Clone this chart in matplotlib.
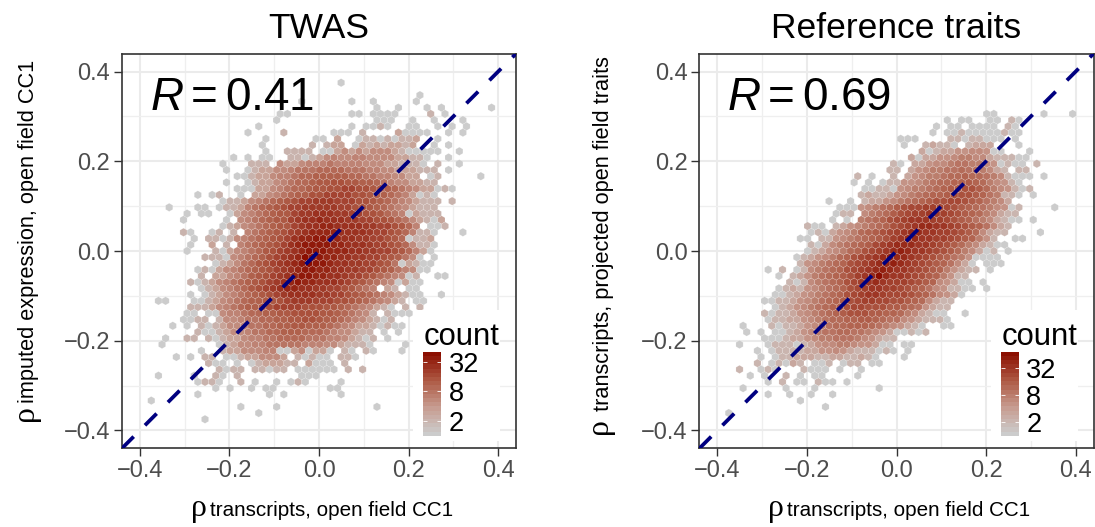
import numpy as np
import matplotlib
matplotlib.use("Agg")
import matplotlib.pyplot as plt
from matplotlib.colors import LinearSegmentedColormap, LogNorm
from matplotlib.cm import ScalarMappable
from matplotlib.patches import Rectangle

plt.rcParams['font.family'] = ['Liberation Sans', 'DejaVu Sans']
plt.rcParams['mathtext.fontset'] = 'custom'
plt.rcParams['mathtext.rm'] = 'Liberation Sans'
plt.rcParams['mathtext.it'] = 'Liberation Sans:italic'
plt.rcParams['lines.scale_dashes'] = False

# Hex-bin counts. Each row is "first_column:codes ...";
# each code stands for one cell's estimated count.
COUNT_CODES = {'1': 1, '2': 2, '3': 3, '4': 5, '5': 6, '6': 8, '7': 10, '8': 12, '9': 14,
               'a': 16, 'b': 20, 'c': 24, 'd': 28, 'e': 34, 'f': 42, 'h': 52, 'g': 74}

twas_rows = [
    "27:1", "", "38:1", "21:1 28:1 31:1 37:1", "32:1 35:1 39:1 41:1 48:1",
    "18:11 28:11 31:1111 39:2 41:1", "18:1 32:111 37:1 40:1 44:1",
    "15:1 28:1 30:112 33:1 36:11 40:1 42:1 44:1",
    "14:1 19:2 26:111 30:2 35:3 36:1111 42:1 44:1",
    "16:1 23:11 26:3 29:1 30:22 32:1 33:2 34:1 35:223 40:1",
    "16:1 23:2 25:233 29:1 30:32323323 40:1 42:1",
    "16:1 19:2222 24:11 26:3434344432 36:11111 43:1",
    "12:1 14:1 16:11 20:2212 24:345445544443322 39:1 42:1",
    "10:1 14:2 15:22 18:4 19:33 21:45556555544433 35:222 38:1 40:2 43:1",
    "11:1 14:1 15:23344566677776665544333222 42:1",
    "12:11 14:233455677888887766554433 39:1 40:2 46:1",
    "11:1 14:1 15:23345677899aa9988765443322",
    "12:111 15:3345677899aabbaa998765433 40:1 41:2 42:1",
    "7:1 9:1 10:2 13:1 15:33456788aabbbbaa9887653 38:1 39:2 40:1",
    "10:1 11:2 12:23456789abbcccbbbaa987654322 40:2 42:2",
    "3:1 7:11 10:1 11:22356789abbcccccbbaa987654322 40:2",
    "5:1 7:11 11:1 12:34567899bccdddccbbaa9765 36:1 37:32 39:22",
    "5:1 11:1 13:4567899bcddedddccbbaa9764 38:32 40:11 41:2",
    "10:1 11:2 12:34567899bcddeeddddccbba975 39:11 41:2",
    "5:21 9:12 12:2 14:56789abcdeeeeddddcbba975 38:22 40:1 44:1",
    "6:1 8:22 10:1 11:2 12:456789abdeeffeeddccbba97 36:1 37:223",
    "6:1 9:3 11:2 13:56789abdeffffeedddcbba97 37:4221",
    "5:1 9:21 11:345679abcdefffeeeddccbba975 38:3 39:1",
    "8:22 10:2 11:1 12:45678abcdehffeeddccbba9864 38:1 40:1",
    "9:1 10:234679abcdefhffeddccbba96 35:1 36:32 38:11",
    "7:1 8:2 9:1 10:3456789abcdeffeeddccbba98654 38:11",
    "7:2 9:3 10:345689abcdeffeeddcbba97654 36:1 37:2 40:11",
    "6:21 8:2 9:3456789abcdefeedddcba97654 35:1 36:3 37:11",
    "7:1 8:2 9:345679abcdeeddccbba9765 33:32 36:11",
    "6:1 8:1 9:2 10:3456789abcddddccbba9876543 36:2 37:11 41:1",
    "1:11 6:11 8:2 9:345678899abcccbbbaa98765432 37:11",
    "6:222 9:34567889abbbbaaa9987654321 36:2 38:2",
    "5:11 8:11 10:4556778899aaaa99876542 33:211 36:1",
    "5:11 7:22 10:2 11:44566778899aa988765432 33:1 34:2",
    "3:1 5:1 7:2 8:1 9:2 10:3445667788998887654332 32:1 33:2 34:11",
    "7:2 8:1 9:1 10:2344566778887776544322 33:1 35:1",
    "2:1 5:22 8:2 9:1 10:2 11:33455667777666554321 31:2 33:1",
    "2:1 10:1 11:2 12:344556666655544322 30:2 31:1 36:1",
    "7:1 10:2 11:3344455 18:11 20:34 22:1 23:33 25:1 27:2 28:1 30:2 31:1 35:1",
    "4:1 6:1 8:22 11:11 13:2334443 21:2 22:1 23:2 24:11 27:22 29:1",
    "8:2 9:1 10:1 12:1 14:1 15:233322 22:3 23:111 27:2",
    "10:2 11:1 12:22 15:22 17:1 18:22 21:1 22:111 25:11 28:2 30:2",
    "1:1 6:1 9:2 10:1 12:2 21:111",
    "7:1 8:22 10:1 13:2 15:1 18:1 20:1 21:2 22:1 27:1",
    "9:1 11:1 14:1 16:11 25:11",
    "7:1 17:1 19:1 27:1", "0:1", "13:1 18:1 32:1", "15:1", "8:1",
]

reference_rows = [
    "", "", "", "", "",
    "36:11 44:1 48:1",
    "31:1 33:11 37:11 40:2 41:1",
    "29:1 31:11 34:1111 39:2 40:1",
    "29:1 31:11 33:2 34:11111 39:2 40:11",
    "24:111 31:22 33:1 34:22 36:111 40:1",
    "25:1 28:23 30:22 32:1 34:2333 41:1",
    "27:3 28:1 29:23344554 37:11 42:1",
    "26:3 27:1 28:3344566553 38:2 39:22 41:11",
    "23:2 24:1 26:334556776654 38:1 39:2 40:11 43:2",
    "23:22 26:3456677877653 39:2 41:22",
    "18:2 20:1 23:2 25:345667889887652 40:111 44:1",
    "18:1 20:1 22:1 23:22 25:445678899a98654 40:2 41:1",
    "19:11 21:22 23:1 24:4566789aabba8654 40:2 41:1 42:2",
    "19:2 20:3 21:2 22:2 23:34567899abbba976 39:2 40:2 41:1 43:1",
    "14:1 17:1 19:2 20:33456789abbccba9765 39:3",
    "16:11 18:1 19:45678abccddccba987654 40:1 41:2 46:1",
    "15:1 16:2 17:2 19:5678abcddeddcba98653 39:22",
    "15:1 17:1 19:6789bcdeeeddcba976532 40:11 43:1",
    "11:2 12:11 15:2 16:3456789bcdeffeedcba9753 39:2",
    "12:1 13:2 14:1 15:345689abcdeffeeddcba8532 39:2 44:1",
    "10:11 13:2 14:2 15:456789abdeffeeddcba9642 40:11",
    "12:2 13:1 14:3 15:56789acdefffeedcba8653 37:21 39:1",
    "11:1 12:2 13:345689bcdefhfeedcba8653 36:1 37:2 39:1",
    "10:1 11:2 12:345689bcdefhffedcba9764 35:11 37:11",
    "10:2 11:456789bcdeffhfedcba9753 34:1 36:111",
    "6:1 8:2 10:1 11:2 12:56789bcdefhfeedcba9643 34:2 35:2 37:1",
    "7:1 9:2 10:3 11:46789abdefgfeedcba9642 33:2",
    "9:2 10:1 11:2 12:56789bcdefedddcba9543 33:11 36:1",
    "7:1 8:2 9:3 10:2 11:456789bcdeeddcba97542 32:2 33:11 36:1",
    "7:11 9:2 10:3456789bcdeedcccba97543 33:1",
    "5:11 7:2 8:23456789abcddccbba98532 31:2",
    "7:1 8:23456789abccbbbaa987432 31:2",
    "5:2 6:1 7:2 8:23456789abbbaa9986532 29:11 33:1",
    "6:1 7:2 8:23345678899aa9877543 28:2 29:22 31:1",
    "2:1 6:2 7:1 8:2 9:234567889998765432 27:1 30:11",
    "3:1 5:1 7:11 9:2 10:34567788776543 24:11 26:2 27:1 28:2",
    "5:11 7:1 8:2 9:33456677765432 23:2",
    "2:1 6:1 7:22 9:2 10:1 11:2 12:3455665443 22:11 25:11",
    "4:1 6:1 7:2 8:2 9:2 10:2 11:33445432 19:2 20:2 21:1 22:2 23:1 25:1",
    "5:1 7:1 8:22 10:333 13:22 15:33 17:2 18:2 19:3 20:2 21:1 25:1",
    "4:2 6:1 7:2 8:1 9:3 10:2 12:11 14:2 16:1 17:22 20:11",
    "2:2 5:1 6:2 7:1 11:2 12:111 16:1 19:1",
    "3:1 5:1 8:2 10:1 12:11 18:1",
    "6:1 8:2 10:11 13:2 14:11 17:1",
    "2:1 8:1 12:1 21:1",
    "6:1 9:1 12:1 15:1",
    "10:1", "14:1", "0:1",
]

titles = ["TWAS", "Reference traits"]
r_values = ["0.41", "0.69"]
x_subscripts = ["transcripts, open field CC1", "transcripts, open field CC1"]
y_subscripts = ["imputed expression, open field CC1", "transcripts, projected open field traits"]
count_max = [52, 74]
legend_ticks = [2, 8, 32]
major_ticks = [-0.4, -0.2, 0.0, 0.2, 0.4]
minor_ticks = [-0.3, -0.1, 0.1, 0.3]

LIM = 0.44
SX, SY = 0.016, 0.0278
X0, Y_TOP = -0.3826, 0.3753
W, H = 1095, 527


def decode(rows):
    xs, ys, cs = [], [], []
    for r, row in enumerate(rows):
        for token in row.split():
            start, vals = token.split(':')
            for k, ch in enumerate(vals):
                xs.append(X0 + (int(start) + k) * SX + (r % 2) * SX / 2)
                ys.append(Y_TOP - r * SY / 2)
                cs.append(COUNT_CODES[ch])
    return np.array(xs), np.array(ys), np.array(cs, dtype=float)


cmap = LinearSegmentedColormap.from_list(
    'count', [(0, '#CCCCCC'), (0.33, '#C79C90'), (0.66, '#AE5A45'), (1, '#8B0E00')])

fig = plt.figure(figsize=(W / 100, H / 100), dpi=100, facecolor='white')


def px(x, y):
    return x / W, 1 - y / H


panels = [
    dict(rows=twas_rows, left=122, rho_x=199, text_x=210, ry=413, ry_text=403, yl_x=29),
    dict(rows=reference_rows, left=699.5, rho_x=776, text_x=787, ry=426, ry_text=411, yl_x=604),
]

for n, p in enumerate(panels):
    ax = fig.add_axes([p['left'] / W, 1 - 448.3 / H, 394 / W, 394.6 / H])
    norm = LogNorm(1, count_max[n])
    x, y, c = decode(p['rows'])
    ax.hexbin(x, y, C=c, gridsize=(54, 28),
              extent=(X0 - SX, X0 + 53 * SX, Y_TOP - 28 * SY, Y_TOP),
              reduce_C_function=np.sum, cmap=cmap, norm=norm,
              linewidths=0.4, edgecolors=(1, 1, 1, 0.25), zorder=2)
    ax.plot([-LIM, LIM], [-LIM, LIM], color='#000080', lw=2.7,
            linestyle=(0, (11.9, 11.5)), dash_capstyle='butt', zorder=3)
    ax.set_xlim(-LIM, LIM)
    ax.set_ylim(-LIM, LIM)
    ax.set_xticks(major_ticks)
    ax.set_yticks(major_ticks)
    ax.set_xticks(minor_ticks, minor=True)
    ax.set_yticks(minor_ticks, minor=True)
    labels = [f"{t:.1f}".replace('-', '\u2212') for t in major_ticks]
    ax.set_xticklabels(labels)
    ax.set_yticklabels(labels)
    ax.grid(True, which='major', color='#EBEBEB', lw=1.5, zorder=0)
    ax.grid(True, which='minor', color='#EFEFEF', lw=0.9, zorder=0)
    ax.set_axisbelow(True)
    ax.tick_params(which='major', length=5.5, width=1.0, color='#333333',
                   labelcolor='#4D4D4D', labelsize=17, pad=3)
    ax.tick_params(which='minor', length=0)
    for s in ax.spines.values():
        s.set_color('#333333')
        s.set_linewidth(1.2)
    ax.set_title(titles[n], fontsize=25.5, pad=11.5, color='black')
    ax.text(-0.378, 0.315, rf"$\mathit{{R}}={r_values[n]}$", fontsize=33, color='black',
            ha='left', va='baseline', zorder=5)

    # x axis label
    fig.text(*px(p['rho_x'], 516), "\u03c1", family='Liberation Serif', fontsize=23,
             ha='center', va='baseline')
    fig.text(*px(p['text_x'], 516), x_subscripts[n], fontsize=14.9, ha='left', va='baseline')
    # y axis label
    fig.text(*px(p['yl_x'] - 4, p['ry']), "\u03c1", family='Liberation Serif', fontsize=23,
             rotation=90, ha='center', va='center', rotation_mode='anchor')
    fig.text(*px(p['yl_x'], p['ry_text']), y_subscripts[n], fontsize=15.7, rotation=90,
             ha='center', va='bottom')

    # legend
    off = p['left'] - 122
    fig.add_artist(Rectangle(px(413 + off, 441), 87 / W, 131 / H, transform=fig.transFigure,
                             facecolor='white', edgecolor='none', zorder=1))
    fig.text(*px(424 + off, 345), "count", fontsize=22.3, ha='left', va='baseline', zorder=3)
    cax = fig.add_axes([(423.3 + off) / W, 1 - 435.7 / H, 17.7 / W, 84 / H], zorder=3)
    sm = ScalarMappable(norm=norm, cmap=cmap.resampled(20))
    cb = fig.colorbar(sm, cax=cax, ticks=legend_ticks)
    cb.outline.set_visible(False)
    cax.minorticks_off()
    cax.set_yticks(legend_ticks)
    cax.set_yticklabels([str(t) for t in legend_ticks])
    cax.tick_params(axis='y', which='major', left=True, right=True, direction='in',
                    length=2.6, width=0.6, color='white', labelsize=19.5, pad=5.5,
                    labelcolor='black')

fig.savefig('out.png', dpi=100)
